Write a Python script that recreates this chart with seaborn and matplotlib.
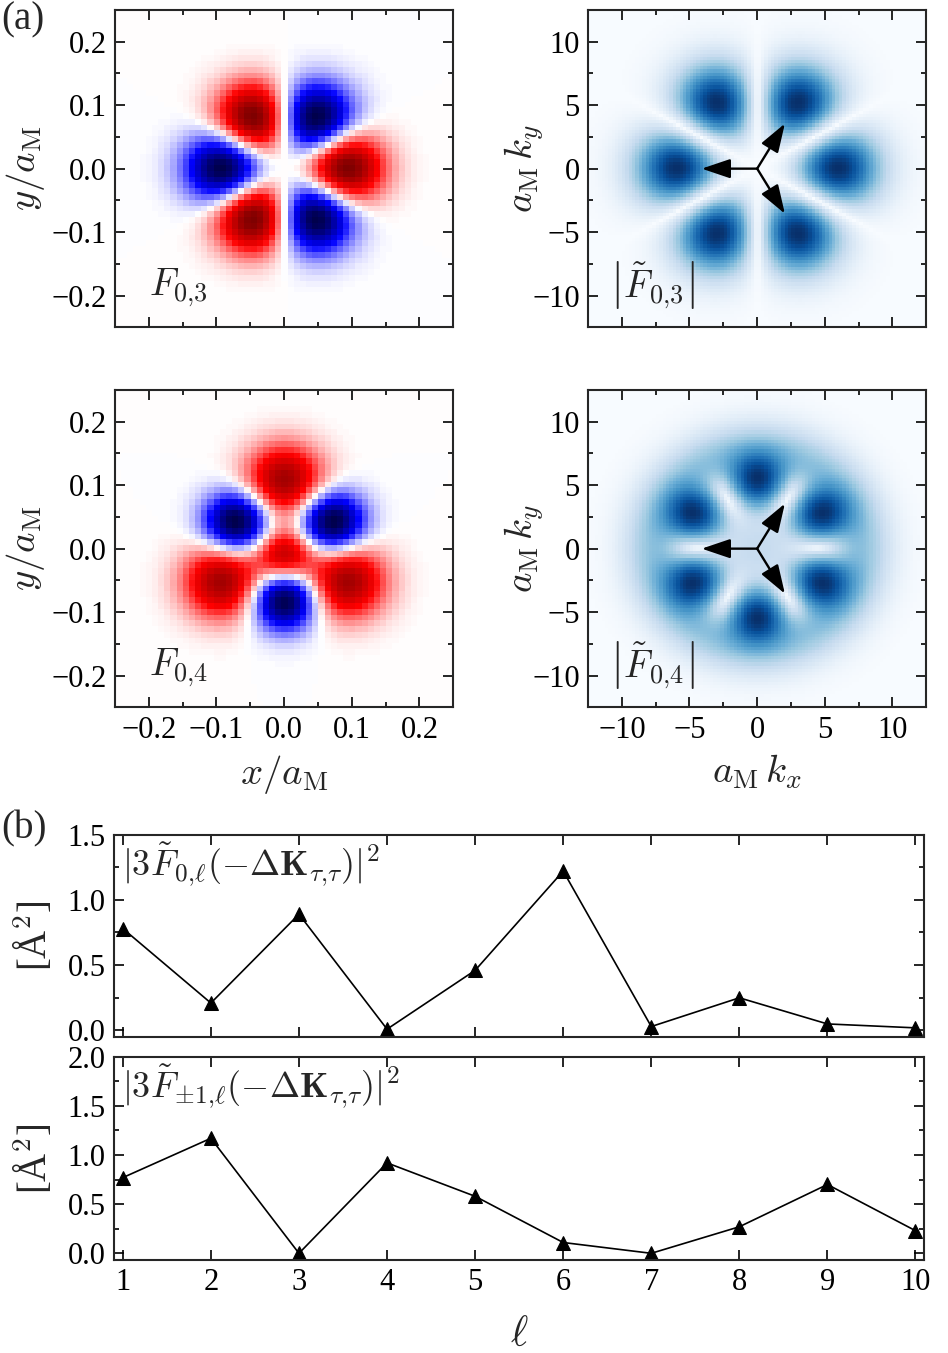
import numpy as np
import pandas as pd
import matplotlib
matplotlib.use("Agg")
import matplotlib.pyplot as plt
from matplotlib.ticker import MultipleLocator, FuncFormatter
import seaborn as sns

# ---------------- panel (b) data ----------------
ell = [1, 2, 3, 4, 5, 6, 7, 8, 9, 10]
F0_sq = [0.78, 0.21, 0.89, 0.01, 0.46, 1.22, 0.03, 0.25, 0.05, 0.02]
Fpm1_sq = [0.77, 1.17, 0.00, 0.92, 0.58, 0.11, 0.00, 0.27, 0.70, 0.23]

# ---------------- panel (a) lobe parameters ----------------
# real space F_{0,3}: lobe radius [a_M], angle [deg], signed amplitude, width [a_M]
F03_radius = [0.089, 0.089, 0.089, 0.089, 0.089, 0.089]
F03_angle = [0, 60, 120, 180, 240, 300]
F03_amp = [1.0, -1.0, 1.0, -1.0, 1.0, -1.0]
F03_width = [0.040, 0.040, 0.040, 0.040, 0.040, 0.040]

# real space F_{0,4}
F04_radius = [0.108, 0.108, 0.108, 0.083, 0.083, 0.083, 0.012]
F04_angle = [90, 210, 330, 30, 150, 270, 270]
F04_amp = [0.80, 0.80, 0.80, -1.0, -1.0, -1.0, 0.70]
F04_width = [0.040, 0.040, 0.040, 0.033, 0.033, 0.033, 0.030]

# k space |F~_{0,3}|
K03_radius = [5.8, 5.8, 5.8, 5.8, 5.8, 5.8]
K03_angle = [0, 60, 120, 180, 240, 300]
K03_amp = [1.0, -1.0, 1.0, -1.0, 1.0, -1.0]
K03_width = [2.3, 2.3, 2.3, 2.3, 2.3, 2.3]

# k space |F~_{0,4}|: anisotropic lobes + isotropic (in quadrature) part
K04_radius = [5.4, 5.4, 5.4, 5.4, 5.4, 5.4]
K04_angle = [30, 90, 150, 210, 270, 330]
K04_amp = [1.0, -1.0, 1.0, -1.0, 1.0, -1.0]
K04_width = [1.85, 1.85, 1.85, 1.85, 1.85, 1.85]
K04_iso_amp = [0.24, -0.45]
K04_iso_center = [0.0, 7.4]
K04_iso_width = [3.6, 1.8]

# arrows (-Delta K directions)
arrow_len = 4.1
arrow_angle = [180, 60, -60]

# ---------------- helpers ----------------
def lobe_field(X, Y, radius, angle, amp, width):
    F = np.zeros_like(X)
    for r, a, A, w in zip(radius, angle, amp, width):
        cx, cy = r * np.cos(np.deg2rad(a)), r * np.sin(np.deg2rad(a))
        F += A * np.exp(-((X - cx) ** 2 + (Y - cy) ** 2) / (2 * w ** 2))
    return F


def radial_field(X, Y, amp, center, width):
    R = np.hypot(X, Y)
    F = np.zeros_like(X)
    for A, c, w in zip(amp, center, width):
        F += A * np.exp(-((R - c) ** 2) / (2 * w ** 2))
    return F


n_r = 55
xr = np.linspace(-0.25, 0.25, n_r)
XR, YR = np.meshgrid(xr, xr)
n_k = 100
xk = np.linspace(-12.5, 12.5, n_k)
XK, YK = np.meshgrid(xk, xk)

F03 = lobe_field(XR, YR, F03_radius, F03_angle, F03_amp, F03_width)
F04 = lobe_field(XR, YR, F04_radius, F04_angle, F04_amp, F04_width)
K03 = np.abs(lobe_field(XK, YK, K03_radius, K03_angle, K03_amp, K03_width))
K04 = np.sqrt(lobe_field(XK, YK, K04_radius, K04_angle, K04_amp, K04_width) ** 2
              + radial_field(XK, YK, K04_iso_amp, K04_iso_center, K04_iso_width) ** 2)

# ---------------- style ----------------
sns.set_theme(style="ticks")
plt.rcParams["font.family"] = ["Liberation Serif", "DejaVu Serif"]
plt.rcParams["mathtext.fontset"] = "cm"
plt.rcParams["axes.linewidth"] = 1.5
plt.rcParams["axes.unicode_minus"] = True

TICK_FS = 22
LABEL_FS = 28


def fmt(decimals):
    def f(v, pos):
        s = f"{v:.{decimals}f}"
        if s.startswith("-"):
            if float(s) == 0:
                s = s[1:]
            else:
                s = "\u2212" + s[1:]
        return s
    return FuncFormatter(f)


fig = plt.figure(figsize=(9.48, 13.53), dpi=100)
W, H = 948.0, 1353.0


def rect(l, t, r, b):
    return [l / W, 1 - b / H, (r - l) / W, (b - t) / H]


ax_tl = fig.add_axes(rect(115, 10, 453.3, 327.3))
ax_tr = fig.add_axes(rect(588, 10, 926.3, 327.3))
ax_bl = fig.add_axes(rect(115, 390, 453.3, 707.3))
ax_br = fig.add_axes(rect(588, 390, 926.3, 707.3))
ax_b1 = fig.add_axes(rect(114, 834.5, 924.3, 1037))
ax_b2 = fig.add_axes(rect(114, 1056.7, 924.3, 1260))


def style_ticks(ax, major_len=7.2, minor_len=3.6):
    ax.tick_params(which="both", direction="in", top=True, right=True,
                   width=1.2, labelsize=TICK_FS, colors="black")
    ax.tick_params(which="major", length=major_len, pad=6)
    ax.tick_params(which="minor", length=minor_len)


# real-space panels
for ax, F, lab in [(ax_tl, F03, r"$F_{0{,}3}$"), (ax_bl, F04, r"$F_{0{,}4}$")]:
    vm = np.abs(F).max()
    ax.imshow(F, cmap="seismic", vmin=-vm, vmax=vm, origin="lower",
              extent=[-0.25, 0.25, -0.25, 0.25], interpolation="nearest", aspect="auto")
    ax.set_xlim(-0.25, 0.25)
    ax.set_ylim(-0.25, 0.25)
    ax.xaxis.set_major_locator(MultipleLocator(0.1))
    ax.yaxis.set_major_locator(MultipleLocator(0.1))
    ax.xaxis.set_minor_locator(MultipleLocator(0.05))
    ax.yaxis.set_minor_locator(MultipleLocator(0.05))
    ax.xaxis.set_major_formatter(fmt(1))
    ax.yaxis.set_major_formatter(fmt(1))
    style_ticks(ax)
    ax.set_ylabel(r"$y/a_{\rm M}$", fontsize=LABEL_FS)
    ax.yaxis.set_label_coords(-0.20, 0.5)
    ax.text(0.1, 0.1, lab, transform=ax.transAxes, fontsize=27, ha="left", va="baseline")

ax_tl.tick_params(labelbottom=False)
ax_bl.set_xlabel(r"$x/a_{\rm M}$", fontsize=LABEL_FS, labelpad=6)

# k-space panels
for ax, K, lab in [(ax_tr, K03, r"$\left|\tilde{F}_{0{,}3}\right|$"),
                   (ax_br, K04, r"$\left|\tilde{F}_{0{,}4}\right|$")]:
    ax.imshow(K, cmap="Blues", vmin=0, vmax=K.max(), origin="lower",
              extent=[-12.5, 12.5, -12.5, 12.5], interpolation="nearest", aspect="auto")
    ax.set_xlim(-12.5, 12.5)
    ax.set_ylim(-12.5, 12.5)
    ax.xaxis.set_major_locator(MultipleLocator(5))
    ax.yaxis.set_major_locator(MultipleLocator(5))
    ax.xaxis.set_minor_locator(MultipleLocator(2.5))
    ax.yaxis.set_minor_locator(MultipleLocator(2.5))
    ax.xaxis.set_major_formatter(fmt(0))
    ax.yaxis.set_major_formatter(fmt(0))
    style_ticks(ax)
    ax.set_ylabel(r"$a_{\rm M}\,k_y$", fontsize=LABEL_FS)
    ax.yaxis.set_label_coords(-0.125, 0.5)
    ax.text(0.065, 0.05, lab, transform=ax.transAxes, fontsize=27, ha="left", va="bottom")
    for a in arrow_angle:
        tip = (arrow_len * np.cos(np.deg2rad(a)), arrow_len * np.sin(np.deg2rad(a)))
        ax.annotate("", xy=tip, xytext=(0, 0),
                    arrowprops=dict(arrowstyle="-|>,head_length=0.8,head_width=0.27",
                                    lw=1.7, color="black", mutation_scale=22,
                                    shrinkA=0, shrinkB=0))

ax_tr.tick_params(labelbottom=False)
ax_br.set_xlabel(r"$a_{\rm M}\,k_x$", fontsize=LABEL_FS, labelpad=6)

# panel (b)
df_b = pd.DataFrame({"ell": ell, "F0": F0_sq, "Fpm1": Fpm1_sq})
for ax, col, ylim, lab in [
    (ax_b1, "F0", (-0.05, 1.5), r"$|3\tilde{F}_{0{,}\ell}(-\Delta\mathbf{K}_{\tau{,}\tau})|^2$"),
    (ax_b2, "Fpm1", (-0.068, 2.0), r"$|3\tilde{F}_{\pm1{,}\ell}(-\Delta\mathbf{K}_{\tau{,}\tau})|^2$"),
]:
    sns.lineplot(data=df_b, x="ell", y=col, ax=ax, color="black", linewidth=1.2,
                 marker="^", markersize=10, markeredgecolor="black", markerfacecolor="black")
    ax.set_xlim(0.9, 10.1)
    ax.set_ylim(*ylim)
    ax.xaxis.set_major_locator(MultipleLocator(1))
    ax.yaxis.set_major_locator(MultipleLocator(0.5))
    ax.yaxis.set_minor_locator(MultipleLocator(0.25))
    ax.yaxis.set_major_formatter(fmt(1))
    style_ticks(ax)
    ax.set_xlabel("")
    ax.set_ylabel("[Å$^2$]", fontsize=LABEL_FS)
    ax.yaxis.set_label_coords(-0.072, 0.5)
    ax.text(0.01, 0.97, lab, transform=ax.transAxes, fontsize=26, ha="left", va="top")

ax_b1.tick_params(labelbottom=False)
ax_b2.set_xlabel(r"$\ell$", fontsize=LABEL_FS + 2, labelpad=14)

fig.text(0.001, 0.999, "(a)", fontsize=28, ha="left", va="top")
fig.text(0.001, 0.401, "(b)", fontsize=28, ha="left", va="top")

fig.savefig("out.png", dpi=100)
